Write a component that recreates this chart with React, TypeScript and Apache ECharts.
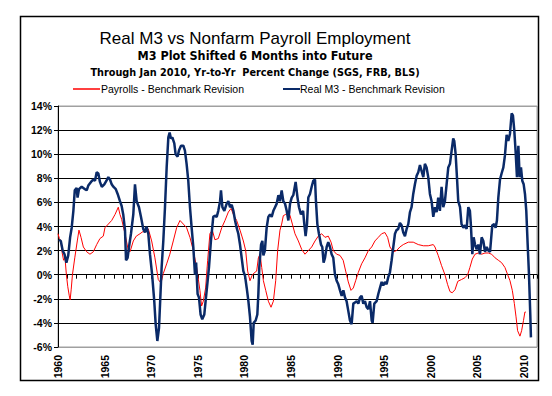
import React, { useEffect, useRef } from 'react';
import * as echarts from 'echarts';

// [year, % change]
const payroll: [number, number][] = [
  [1960.0, 3.4], [1960.15, 3.0], [1960.3, 2.8], [1960.45, 1.8], [1960.6, 1.2], [1960.75, 1.4],
  [1960.9, 0.0], [1961.05, -1.0], [1961.2, -1.7], [1961.3, -2.1], [1961.42, -1.2], [1961.55, 0.0],
  [1961.8, 1.4], [1962.07, 2.8], [1962.25, 3.7], [1962.47, 3.1], [1962.72, 2.3], [1963.08, 1.9],
  [1963.43, 1.7], [1963.79, 1.9], [1964.15, 2.5], [1964.5, 3.0], [1964.86, 3.2], [1965.04, 3.9],
  [1965.4, 4.2], [1965.76, 4.5], [1966.12, 5.0], [1966.47, 5.6], [1966.65, 5.0], [1966.83, 4.6],
  [1967.19, 3.4], [1967.55, 2.0], [1967.73, 1.9], [1968.08, 2.8], [1968.4, 3.2], [1968.8, 3.4],
  [1969.33, 3.7], [1969.69, 3.8], [1970.05, 2.8], [1970.4, 1.4], [1970.76, -0.4], [1971.05, -0.7],
  [1971.3, 0.1], [1971.66, 0.9], [1972.0, 1.7], [1972.37, 2.8], [1972.73, 3.9], [1973.09, 4.5],
  [1973.45, 4.2], [1973.8, 3.9], [1974.16, 3.1], [1974.52, 2.0], [1974.88, 0.6], [1975.23, -1.3],
  [1975.41, -2.6], [1975.59, -2.2], [1975.84, -1.1], [1976.06, 1.2], [1976.3, 3.4], [1976.56, 3.7],
  [1976.84, 2.9], [1977.2, 3.0], [1977.57, 3.9], [1977.92, 4.5], [1978.28, 5.2], [1978.57, 5.5],
  [1978.82, 5.0], [1979.17, 4.5], [1979.53, 3.7], [1979.89, 2.8], [1980.14, 2.0], [1980.35, 0.3],
  [1980.6, -0.5], [1980.86, 0.0], [1981.14, 0.2], [1981.32, 0.3], [1981.5, 1.4], [1981.68, 1.7],
  [1981.86, 0.6], [1982.04, -0.5], [1982.29, -1.3], [1982.57, -2.2], [1982.86, -2.7], [1983.11, -2.2],
  [1983.36, -0.5], [1983.57, 2.0], [1983.82, 3.7], [1984.0, 4.2], [1984.18, 4.9], [1984.43, 5.0],
  [1984.65, 5.2], [1984.9, 4.9], [1985.15, 4.2], [1985.43, 3.4], [1985.79, 2.8], [1986.15, 2.1],
  [1986.5, 1.7], [1986.86, 2.0], [1987.22, 2.3], [1987.58, 2.8], [1987.93, 3.2], [1988.29, 3.4],
  [1988.65, 3.1], [1989.0, 3.2], [1989.3, 2.7], [1989.54, 2.0], [1989.9, 1.7], [1990.26, 1.6],
  [1990.6, 1.2], [1990.87, 0.3], [1991.15, -0.6], [1991.44, -1.3], [1991.69, -1.1], [1991.94, -0.5],
  [1992.23, 0.2], [1992.58, 0.9], [1992.94, 1.4], [1993.3, 2.0], [1993.66, 2.3], [1994.01, 2.8],
  [1994.37, 3.1], [1994.73, 3.4], [1995.08, 3.5], [1995.37, 3.1], [1995.62, 2.3], [1995.98, 1.9],
  [1996.33, 2.0], [1996.69, 2.3], [1997.05, 2.5], [1997.59, 2.7], [1998.12, 2.7], [1998.66, 2.5],
  [1999.2, 2.4], [1999.73, 2.4], [2000.27, 2.5], [2000.45, 2.3], [2000.8, 1.6], [2001.16, 0.75],
  [2001.52, 0.0], [2001.8, -0.8], [2002.06, -1.4], [2002.3, -1.5], [2002.6, -1.25], [2002.9, -0.55],
  [2003.3, -0.4], [2003.67, -0.25], [2003.96, 0.0], [2004.2, 0.6], [2004.46, 1.3], [2004.75, 1.7],
  [2005.1, 1.8], [2005.46, 1.7], [2005.82, 1.8], [2006.18, 1.8], [2006.53, 1.7], [2006.9, 1.4],
  [2007.25, 1.2], [2007.6, 1.0], [2007.96, 0.6], [2008.25, 0.0], [2008.5, -0.5], [2008.75, -1.3],
  [2008.97, -2.4], [2009.15, -3.5], [2009.32, -4.65], [2009.57, -5.1], [2009.75, -4.65], [2009.95, -3.8],
  [2010.1, -3.1], [2010.2, -3.1],
];

const realM3: [number, number][] = [
  [1960.1, 2.9], [1960.3, 2.8], [1960.5, 2.0], [1960.7, 1.7], [1960.9, 1.0], [1961.1, 1.6],
  [1961.3, 3.1], [1961.47, 3.9], [1961.65, 5.3], [1961.8, 7.0], [1962.0, 7.2], [1962.1, 6.4],
  [1962.25, 7.1], [1962.54, 7.3], [1962.9, 7.1], [1963.08, 7.0], [1963.25, 7.4], [1963.54, 7.7],
  [1963.8, 7.9], [1963.97, 7.8], [1964.15, 8.5], [1964.33, 8.4], [1964.5, 7.7], [1964.7, 7.3],
  [1964.97, 7.5], [1965.2, 7.8], [1965.4, 8.1], [1965.58, 7.9], [1965.76, 7.5], [1965.94, 7.3],
  [1966.2, 7.1], [1966.4, 6.7], [1966.65, 6.1], [1966.83, 5.7], [1967.0, 5.0], [1967.19, 3.7],
  [1967.3, 1.2], [1967.47, 1.4], [1967.62, 2.3], [1967.83, 3.4], [1968.08, 5.0], [1968.26, 7.5],
  [1968.44, 6.1], [1968.69, 5.6], [1968.9, 4.8], [1969.15, 3.8], [1969.33, 3.5], [1969.5, 4.0],
  [1969.69, 3.4], [1969.87, 1.7], [1970.1, 0.0], [1970.33, -2.2], [1970.48, -4.1], [1970.66, -5.5],
  [1970.84, -4.4], [1970.98, -1.9], [1971.12, 0.6], [1971.3, 2.8], [1971.48, 5.6], [1971.66, 8.9],
  [1971.84, 11.4], [1971.98, 11.8], [1972.12, 11.3], [1972.27, 11.4], [1972.48, 10.9], [1972.62, 10.0],
  [1972.84, 9.8], [1972.98, 10.3], [1973.2, 10.7], [1973.45, 10.7], [1973.62, 10.3], [1973.8, 9.2],
  [1973.98, 7.8], [1974.16, 5.6], [1974.34, 3.9], [1974.52, 2.3], [1974.7, 0.0], [1974.82, 1.0],
  [1974.98, -1.6], [1975.13, -1.9], [1975.3, -3.3], [1975.48, -3.7], [1975.7, -3.3], [1975.84, -2.2],
  [1976.06, -0.5], [1976.2, 0.6], [1976.41, 2.8], [1976.66, 4.8], [1976.84, 4.9], [1977.03, 4.8],
  [1977.2, 5.3], [1977.39, 6.1], [1977.49, 7.0], [1977.64, 5.6], [1977.85, 5.3], [1978.1, 5.9],
  [1978.28, 6.1], [1978.46, 5.6], [1978.64, 5.8], [1978.82, 5.3], [1979.0, 4.5], [1979.17, 3.9],
  [1979.35, 3.4], [1979.53, 2.5], [1979.71, 1.4], [1979.89, 0.3], [1980.07, -0.1], [1980.25, -1.1],
  [1980.43, -2.2], [1980.6, -3.5], [1980.78, -5.5], [1980.89, -5.8], [1981.0, -4.0], [1981.21, -3.8],
  [1981.39, -3.3], [1981.5, -1.6], [1981.6, 0.6], [1981.79, 2.5], [1981.93, 2.8], [1982.04, 1.6],
  [1982.2, 2.0], [1982.39, 3.9], [1982.57, 4.8], [1982.75, 5.0], [1982.93, 4.8], [1983.11, 5.3],
  [1983.29, 5.6], [1983.47, 5.9], [1983.65, 6.6], [1983.82, 6.1], [1984.0, 7.0], [1984.18, 6.1],
  [1984.36, 5.9], [1984.54, 5.3], [1984.72, 4.5], [1984.9, 5.9], [1985.08, 6.4], [1985.25, 6.6],
  [1985.5, 7.7], [1985.7, 6.4], [1985.86, 5.6], [1986.07, 5.0], [1986.3, 5.3], [1986.43, 4.2],
  [1986.57, 3.2], [1986.72, 4.2], [1986.86, 6.4], [1987.04, 6.7], [1987.22, 7.3], [1987.4, 7.8],
  [1987.58, 7.9], [1987.68, 6.1], [1987.83, 4.2], [1988.0, 3.4], [1988.22, 2.5], [1988.36, 2.3],
  [1988.5, 1.0], [1988.65, 1.4], [1988.83, 2.3], [1989.0, 2.7], [1989.19, 2.3], [1989.36, 1.7],
  [1989.54, 1.4], [1989.72, 0.0], [1989.9, -0.5], [1990.08, -0.8], [1990.26, -1.3], [1990.44, -1.75],
  [1990.62, -1.3], [1990.8, -1.9], [1990.97, -2.2], [1991.15, -3.0], [1991.33, -3.8], [1991.51, -4.1],
  [1991.69, -2.4], [1991.87, -2.3], [1992.05, -2.2], [1992.23, -2.4], [1992.4, -1.9], [1992.58, -1.75],
  [1992.76, -2.4], [1992.94, -2.2], [1993.12, -2.7], [1993.3, -2.85], [1993.48, -2.2], [1993.66, -3.8],
  [1993.76, -4.0], [1993.94, -2.4], [1994.19, -2.2], [1994.37, -1.6], [1994.55, -1.1], [1994.73, -0.6],
  [1994.9, -0.9], [1995.08, -0.6], [1995.26, -0.8], [1995.44, -0.2], [1995.62, 0.2], [1995.8, 1.2],
  [1995.98, 2.3], [1996.16, 3.4], [1996.33, 3.7], [1996.51, 3.8], [1996.69, 4.3], [1996.87, 4.1],
  [1997.05, 3.5], [1997.23, 3.2], [1997.41, 3.8], [1997.59, 4.2], [1997.77, 5.2], [1997.94, 5.6],
  [1998.12, 6.7], [1998.3, 7.5], [1998.48, 8.2], [1998.66, 8.5], [1998.84, 9.1], [1999.02, 8.6],
  [1999.2, 8.1], [1999.37, 9.2], [1999.55, 8.9], [1999.73, 8.1], [1999.91, 6.7], [2000.09, 6.1],
  [2000.27, 4.8], [2000.45, 5.6], [2000.63, 5.2], [2000.8, 6.4], [2000.98, 5.3], [2001.16, 7.3],
  [2001.34, 5.6], [2001.52, 6.1], [2001.7, 7.5], [2001.88, 8.9], [2002.06, 9.2], [2002.24, 10.3],
  [2002.41, 11.3], [2002.52, 11.1], [2002.67, 10.0], [2002.81, 8.1], [2002.95, 6.1], [2003.14, 5.6],
  [2003.3, 4.2], [2003.5, 3.9], [2003.67, 4.1], [2003.85, 3.8], [2004.03, 5.6], [2004.2, 5.3],
  [2004.3, 4.2], [2004.46, 1.7], [2004.6, 3.1], [2004.75, 2.5], [2004.92, 2.1], [2005.1, 2.5],
  [2005.28, 1.7], [2005.46, 3.1], [2005.64, 2.8], [2005.82, 1.9], [2006.0, 2.3], [2006.18, 2.0],
  [2006.36, 1.9], [2006.46, 2.8], [2006.6, 4.1], [2006.82, 4.2], [2006.96, 3.9], [2007.1, 4.5],
  [2007.25, 6.4], [2007.43, 7.9], [2007.6, 8.4], [2007.79, 8.9], [2007.96, 9.9], [2008.14, 11.6],
  [2008.32, 11.1], [2008.5, 11.7], [2008.68, 13.4], [2008.82, 13.2], [2008.96, 12.0], [2009.1, 10.3],
  [2009.25, 8.1], [2009.4, 10.7], [2009.54, 8.1], [2009.68, 8.9], [2009.82, 7.8], [2009.97, 7.5],
  [2010.11, 6.7], [2010.25, 5.3], [2010.4, 2.5], [2010.54, 0.0], [2010.68, -3.3], [2010.75, -5.2],
];

const titleLines = [
  'Real M3 vs Nonfarm Payroll Employment',
  'M3 Plot Shifted 6 Months into Future',
  'Through Jan 2010, Yr-to-Yr  Percent Change (SGS, FRB, BLS)',
];
const seriesNames = ['Payrolls - Benchmark Revision', 'Real M3 - Benchmark Revision'];

const X_MIN = 1960;
const X_MAX = 2011.4;
const Y_MIN = -6;
const Y_MAX = 14;
const Y_STEP = 2;

const SANS = '"Liberation Sans", Arial, sans-serif';
const NARROW = '"Liberation Sans Narrow", "Arial Narrow", "DejaVu Sans Condensed", sans-serif';

export default function App() {
  const ref = useRef<HTMLDivElement>(null);
  useEffect(() => {
    if (!ref.current) return;
    const chart = echarts.init(ref.current, undefined, { renderer: 'svg' });
    const nLines = (Y_MAX - Y_MIN) / Y_STEP + 1;
    const splitColors = Array.from({ length: nLines }, (_, i) =>
      i === 0 || i === nLines - 1 ? '#a0a0a0' : '#000000'
    );
    chart.setOption({
      animation: false,
      backgroundColor: '#ffffff',
      grid: {
        left: 58,
        top: 106,
        width: 479,
        height: 241,
        show: true,
        borderColor: '#a0a0a0',
        borderWidth: 1,
        backgroundColor: 'transparent',
      },
      xAxis: [
        {
          type: 'value',
          min: X_MIN,
          max: X_MAX,
          interval: 5,
          position: 'bottom',
          axisLine: { show: false, onZero: false },
          axisTick: { show: false },
          splitLine: { show: false },
          axisLabel: {
            rotate: 90,
            margin: 8,
            fontFamily: SANS,
            fontSize: 10.5,
            fontWeight: 'bold',
            color: '#000',
            formatter: (v: number) => (Math.abs(v % 5) < 1e-6 ? String(v) : ''),
          },
        },
        {
          type: 'value',
          min: X_MIN,
          max: X_MAX,
          interval: 1,
          position: 'top',
          axisLine: { show: true, onZero: true, lineStyle: { color: '#000', width: 1 } },
          axisTick: { show: true, inside: true, length: 4, lineStyle: { color: '#000' } },
          axisLabel: { show: false },
          splitLine: { show: false },
        },
      ],
      yAxis: {
        type: 'value',
        min: Y_MIN,
        max: Y_MAX,
        interval: Y_STEP,
        axisLine: { show: true, lineStyle: { color: '#000', width: 1 } },
        axisTick: { show: true, length: 4, lineStyle: { color: '#000' } },
        axisLabel: {
          margin: 6,
          fontFamily: SANS,
          fontSize: 10.5,
          fontWeight: 'bold',
          color: '#000',
          formatter: '{value}%',
        },
        splitLine: { show: true, lineStyle: { color: splitColors, width: 1 } },
      },
      series: [
        {
          name: seriesNames[0],
          type: 'line',
          xAxisIndex: 0,
          data: payroll,
          showSymbol: false,
          lineStyle: { color: '#ff0000', width: 1 },
          itemStyle: { color: '#ff0000' },
        },
        {
          name: seriesNames[1],
          type: 'line',
          xAxisIndex: 0,
          data: realM3,
          showSymbol: false,
          lineStyle: { color: '#0a2a68', width: 2.5 },
          itemStyle: { color: '#0a2a68' },
        },
      ],
      graphic: [
        {
          type: 'rect',
          shape: { x: 20.5, y: 16.5, width: 518, height: 364 },
          style: { fill: 'none', stroke: '#000', lineWidth: 1.5 },
          silent: true,
        },
        {
          type: 'text',
          x: 255,
          y: 38,
          style: {
            text: titleLines[0],
            textAlign: 'center',
            textVerticalAlign: 'middle',
            fontFamily: SANS,
            fontSize: 17,
            fill: '#000',
          },
        },
        {
          type: 'text',
          x: 255,
          y: 55,
          style: {
            text: titleLines[1],
            textAlign: 'center',
            textVerticalAlign: 'middle',
            fontFamily: NARROW,
            fontWeight: 'bold',
            fontSize: 12.5,
            fill: '#000',
          },
        },
        {
          type: 'text',
          x: 255,
          y: 72,
          style: {
            text: titleLines[2],
            textAlign: 'center',
            textVerticalAlign: 'middle',
            fontFamily: NARROW,
            fontWeight: 'bold',
            fontSize: 10.8,
            fill: '#000',
          },
        },
        {
          type: 'line',
          shape: { x1: 73, y1: 89, x2: 100, y2: 89 },
          style: { stroke: '#ff0000', lineWidth: 1.5 },
        },
        {
          type: 'text',
          x: 101,
          y: 89,
          style: {
            text: seriesNames[0],
            textAlign: 'left',
            textVerticalAlign: 'middle',
            fontFamily: SANS,
            fontSize: 10.5,
            fill: '#000',
          },
        },
        {
          type: 'line',
          shape: { x1: 283, y1: 89, x2: 300, y2: 89 },
          style: { stroke: '#0a2a68', lineWidth: 2 },
        },
        {
          type: 'text',
          x: 300,
          y: 89,
          style: {
            text: seriesNames[1],
            textAlign: 'left',
            textVerticalAlign: 'middle',
            fontFamily: SANS,
            fontSize: 10.5,
            fill: '#000',
          },
        },
      ],
    });
    return () => chart.dispose();
  }, []);
  return (
    <div
      ref={ref}
      style={{ position: 'fixed', left: 0, top: 0, width: 552, height: 396, background: '#fff' }}
    />
  );
}
